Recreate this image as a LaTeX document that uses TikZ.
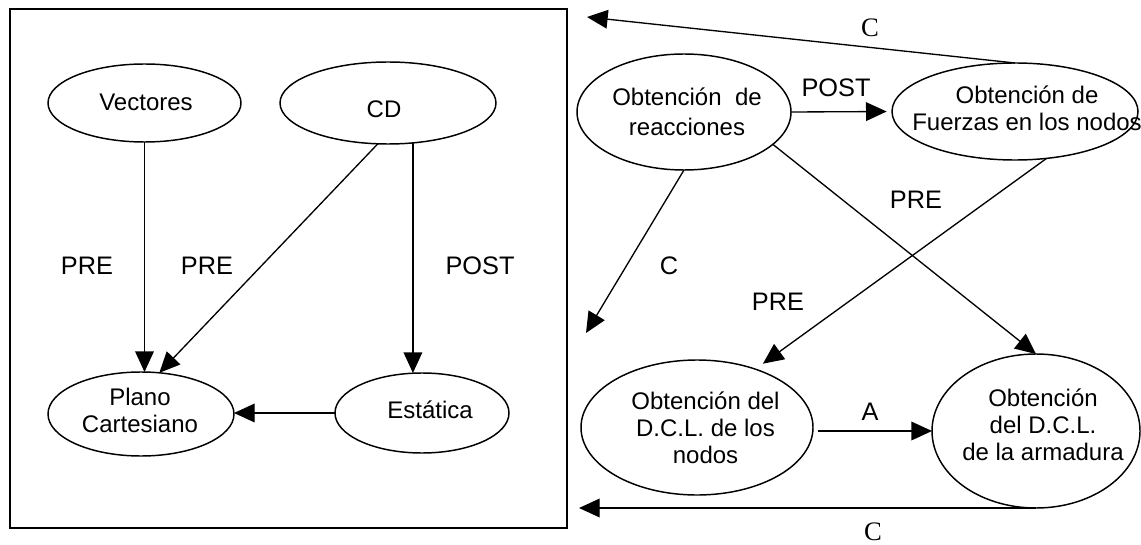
\documentclass[tikz,border=0pt]{standalone}
\usepackage{fontspec}
\setmainfont{Liberation Sans}
\newfontfamily\serifC{Liberation Serif}
\usetikzlibrary{shapes.geometric,arrows.meta}
\begin{document}
\begin{tikzpicture}[x=0.75pt,y=-0.75pt,
  ell/.style 2 args={ellipse,draw,line width=1.1pt,inner sep=0pt,outer sep=0pt,
    minimum width=#1*0.75pt,minimum height=#2*0.75pt},
  txt/.style={font=\fontsize{18}{20.25}\selectfont,align=center,inner sep=0pt},
  lbl/.style={font=\fontsize{19}{22}\selectfont,inner sep=0pt},
  clbl/.style={font=\serifC\fontsize{20}{22}\selectfont,inner sep=0pt},
  conn/.style={line width=1pt,-{Triangle[length=15.5pt,width=14pt]}},
  frame/.style={line width=1.5pt}]
\useasboundingbox (0,0) rectangle (1141,545);
\fill[white] (0,0) rectangle (1141,545);

% left frame
\draw[frame] (10,9.5) rectangle (567,528);

% left nodes
\node[ell={193}{78},label={[txt,shift={(1.5,-1)}]center:Vectores}] (vec) at (144.5,103) {};
\node[ell={216}{82},label={[txt,shift={(-4,6)}]center:CD}] (cd) at (388,103) {};
\node[ell={186}{84},label={[txt,shift={(-1,-4)}]center:Plano\\Cartesiano}] (plano) at (141,414) {};
\node[ell={174}{80},label={[txt,shift={(8,-3)}]center:Estática}] (est) at (422,413) {};

% right nodes
\node[ell={214}{116},label={[txt,shift={(3,0)}]center:Obtención\ \ de\\[2.25pt]reacciones}] (reac) at (684,112) {};
\node[ell={246}{97},label={[txt,shift={(12,-3.5)}]center:Obtención de\\Fuerzas en los nodos}] (fuer) at (1015,111.5) {};
\node[ell={232}{135},label={[txt,shift={(8.5,0)}]center:Obtención del\\D.C.L. de los\\nodos}] (nodos) at (697,427.5) {};
\node[ell={208}{154},label={[txt,shift={(7,-6)}]center:Obtención\\del D.C.L.\\de la armadura}] (arm) at (1036,431) {};

% free ends
\coordinate (ctop) at (587,17);
\coordinate (cleft) at (586,333);
\coordinate (cbot) at (579,508);

% left connectors
\draw[conn] (vec.south) -- (vec.south |- plano.north);
\draw[conn] (cd.256) -- (plano.66);
\draw[conn] (cd.302) -- (cd.302 |- est.north);
\draw[conn] (est.west) -- (est.west -| plano.east);

% right connectors
\draw[conn,shorten >=4pt] (reac.east) -- (fuer.west);
\draw[conn] (fuer.north) -- (ctop);
\draw[conn] (reac.south) -- (cleft);
\draw[conn] (reac.340) -- (arm.north);
\draw[conn,shorten >=7pt] (fuer.304) -- (nodos.45);
\draw[conn,shorten <=4pt] (nodos.east |- arm.west) -- (arm.west);
\draw[conn] (arm.south) -- (cbot);

% labels
\node[lbl] (l1) at (87,266) {PRE};
\node[lbl] (l2) at (207,266) {PRE};
\node[lbl] (l3) at (480,266) {POST};
\node[lbl] (l4) at (836,88) {POST};
\node[lbl] (l5) at (916,200) {PRE};
\node[lbl] (l6) at (669,266) {C};
\node[lbl] (l7) at (778,302) {PRE};
\node[lbl] (l8) at (870,412) {A};
\node[clbl] (l9) at (870,28) {C};
\node[clbl] (l10) at (873,532) {C};
\end{tikzpicture}
\end{document}
